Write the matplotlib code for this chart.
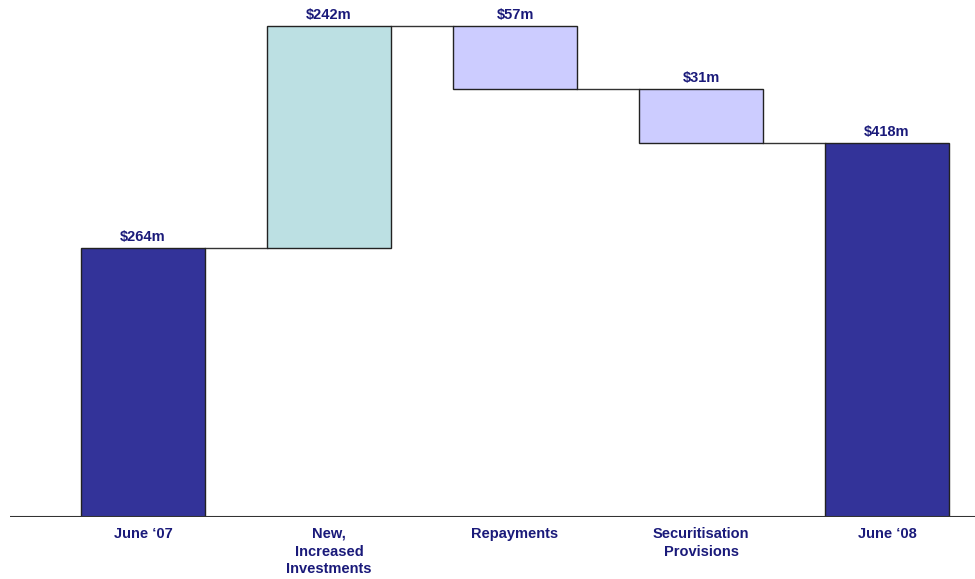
import numpy as np
import matplotlib.pyplot as plt

# categories and the amounts printed on the chart ($m)
categories = ["June \u201807", "New,\nIncreased\nInvestments", "Repayments",
              "Securitisation\nProvisions", "June \u201808"]
amounts = [264, 242, 57, 31, 418]
# the drawn bars are not to scale with the printed amounts, so these are the
# heights as they appear in the picture (same arbitrary units, + up / - down)
drawn = [269, 222, -63, -54, 374]
kinds = ["total", "up", "down", "down", "total"]

colors = {"total": "#333399", "up": "#bce0e3", "down": "#ccccff"}
text_col = "#1a1a7a"

plt.rcParams['font.family'] = ['Liberation Sans', 'DejaVu Sans']

# work out bottoms / tops for the waterfall
bottoms = []
tops = []
levels = []
level = 0
for d, k in zip(drawn, kinds):
    if k == "total":
        bottoms.append(0)
        tops.append(d)
        level = d
    else:
        new_level = level + d
        bottoms.append(min(level, new_level))
        tops.append(max(level, new_level))
        level = new_level
    levels.append(level)

x = np.arange(len(categories))
width = 0.67

fig = plt.figure(figsize=(9.75, 5.79), dpi=100)
ax = fig.add_axes([10 / 975, 62 / 579, 965 / 975, 517 / 579])

heights = [t - b for t, b in zip(tops, bottoms)]
ax.bar(x, heights, width, bottom=bottoms,
       color=[colors[k] for k in kinds], edgecolor="#222222", linewidth=1.0, zorder=2)

# connector lines between the bars
for i in range(len(x) - 1):
    ax.plot([x[i] + width / 2, x[i + 1] - width / 2], [levels[i], levels[i]],
            color="#333333", lw=1.0, zorder=1)

# value labels
for xi, t, a in zip(x, tops, amounts):
    ax.text(xi, t + 4, f"${a}m", ha="center", va="bottom", fontsize=10.5,
            fontweight="bold", color=text_col)

# baseline
ax.axhline(0, color="#333333", lw=1.5, zorder=3)

ax.set_xlim(-0.715, 4.473)
ax.set_ylim(0, 517)
ax.set_xticks(x)
ax.set_xticklabels(categories, fontsize=10.5, fontweight="bold", color=text_col,
                   linespacing=1.35)
ax.tick_params(axis="x", length=0, pad=7)
ax.set_yticks([])
for s in ax.spines.values():
    s.set_visible(False)

fig.savefig("out.png", dpi=100)
